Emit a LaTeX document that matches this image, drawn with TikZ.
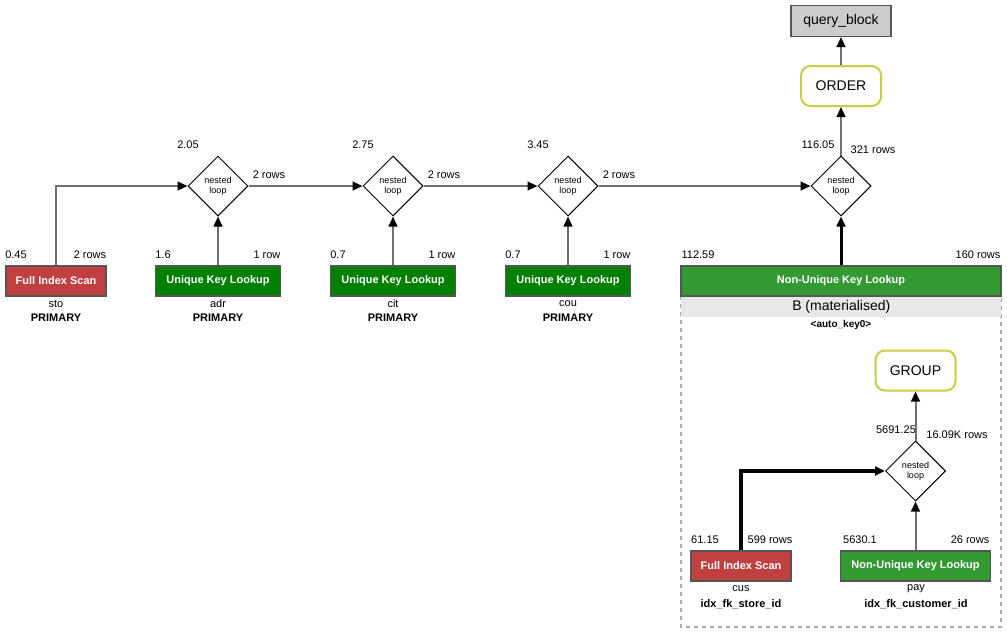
\documentclass[tikz,border=0pt]{standalone}
\usepackage{fontspec}
\setmainfont{Liberation Sans}
\usetikzlibrary{shapes.geometric,arrows.meta}
\definecolor{scanred}{HTML}{C04040}
\definecolor{ukgreen}{HTML}{008000}
\definecolor{nukgreen}{HTML}{339933}
\definecolor{edgegray}{HTML}{707070}
\definecolor{boxborder}{HTML}{555555}
\definecolor{opborder}{HTML}{CCCC44}
\definecolor{qbfill}{HTML}{CCCCCC}
\definecolor{bandfill}{HTML}{E8E8E8}
\definecolor{dashgray}{HTML}{AAAAAA}
\tikzset{
  accbox/.style={draw=boxborder, line width=1pt, minimum height=22.5pt, inner sep=0pt,
    text=white, font=\fontsize{8.25}{9}\selectfont\bfseries},
  redbox/.style={accbox, fill=scanred, minimum width=75pt},
  ukbox/.style={accbox, fill=ukgreen, minimum width=93.75pt},
  nukbox/.style={accbox, fill=nukgreen},
  nlbox/.style={diamond, draw, line width=0.75pt, fill=white, minimum width=45pt, minimum height=45pt,
    inner sep=0pt, align=center, font=\fontsize{6.75}{7.5}\selectfont},
  opbox/.style={draw=opborder, line width=1.5pt, rounded corners=7pt, fill=white,
    minimum width=60pt, minimum height=30pt, font=\fontsize{10.5}{12}\selectfont},
  lbl/.style={font=\fontsize{8.25}{9}\selectfont, inner sep=0pt},
  blbl/.style={font=\fontsize{8.25}{9}\selectfont\bfseries, inner sep=0pt},
  edge/.style={draw=edgegray, line width=1.5pt, -{Triangle[length=7.5pt,width=6.5pt,color=black]}},
  thickedge/.style={draw=black, line width=2.25pt, -{Triangle[length=7.5pt,width=6.5pt]}},
  heavyedge/.style={draw=black, line width=3.5pt, -{Triangle[length=7.5pt,width=6.5pt]}},
}
\begin{document}
\begin{tikzpicture}[x=0.75pt,y=-0.75pt]
\useasboundingbox (0,0) rectangle (1007,632);

% dashed materialised region
\draw[dashgray, dashed, line width=1pt] (681,296) rectangle (1001,627);
\node[fill=bandfill, minimum width=240pt, minimum height=15.75pt, inner sep=0pt, anchor=north west,
  font=\fontsize{10.5}{12}\selectfont] (band) at (681,296) {B (materialised)};
\node[blbl, font=\fontsize{7.5}{9}\selectfont\bfseries] (autokey) at (841,325) {<auto\_key0>};

% top chain
\node[draw=boxborder, line width=1pt, fill=qbfill, minimum width=75pt, minimum height=23pt,
  font=\fontsize{10.5}{12}\selectfont] (qb) at (841,21) {query\_block};
\node[opbox] (order) at (841,86) {ORDER};
\node[nlbox] (nl4) at (841,186) {nested\\loop};
\node[nukbox, minimum width=240pt] (nuk) at (841,281) {Non-Unique Key Lookup};

% first row
\node[redbox] (sto) at (56,281) {Full Index Scan};
\node[ukbox] (adr) at (218,281) {Unique Key Lookup};
\node[ukbox] (cit) at (393,281) {Unique Key Lookup};
\node[ukbox] (cou) at (568,281) {Unique Key Lookup};
\node[nlbox] (nl1) at (218,186) {nested\\loop};
\node[nlbox] (nl2) at (393,186) {nested\\loop};
\node[nlbox] (nl3) at (568,186) {nested\\loop};

% materialised subtree
\node[opbox] (group) at (915.5,370.5) {GROUP};
\node[nlbox] (nl5) at (915.5,471) {nested\\loop};
\node[redbox] (cus) at (741,566) {Full Index Scan};
\node[nukbox, minimum width=112.5pt] (pay) at (915.5,566) {Non-Unique Key Lookup};

% labels
\node[lbl] (l1) at (16,255) {0.45};
\node[lbl] (l2) at (90,255) {2 rows};
\node[lbl] (l3) at (56,304) {sto};
\node[blbl] (l4) at (56,318) {PRIMARY};
\node[lbl] (l5) at (163,255) {1.6};
\node[lbl] (l6) at (267,255) {1 row};
\node[lbl] (l7) at (218,304) {adr};
\node[blbl] (l8) at (218,318) {PRIMARY};
\node[lbl] (l9) at (338,255) {0.7};
\node[lbl] (l10) at (442,255) {1 row};
\node[lbl] (l11) at (393,304) {cit};
\node[blbl] (l12) at (393,318) {PRIMARY};
\node[lbl] (l13) at (513,255) {0.7};
\node[lbl] (l14) at (617,255) {1 row};
\node[lbl] (l15) at (568,304) {cou};
\node[blbl] (l16) at (568,318) {PRIMARY};
\node[lbl] (l17) at (188,145) {2.05};
\node[lbl] (l18) at (269,175) {2 rows};
\node[lbl] (l19) at (363,145) {2.75};
\node[lbl] (l20) at (444,175) {2 rows};
\node[lbl] (l21) at (538,145) {3.45};
\node[lbl] (l22) at (619,175) {2 rows};
\node[lbl] (l23) at (818,145) {116.05};
\node[lbl] (l24) at (873,150) {321 rows};
\node[lbl] (l25) at (698,255) {112.59};
\node[lbl] (l26) at (978,255) {160 rows};
\node[lbl] (l27) at (896,430) {5691.25};
\node[lbl] (l28) at (957,435) {16.09K rows};
\node[lbl] (l29) at (705,540) {61.15};
\node[lbl] (l30) at (770,540) {599 rows};
\node[lbl] (l31) at (741,589) {cus};
\node[blbl] (l32) at (741,604) {idx\_fk\_store\_id};
\node[lbl] (l33) at (860,540) {5630.1};
\node[lbl] (l34) at (970,540) {26 rows};
\node[lbl] (l35) at (916,589) {pay};
\node[blbl] (l36) at (916,604) {idx\_fk\_customer\_id};

% edges
\draw[edge] (sto.north) |- (nl1.west);
\draw[edge] (adr.north) -- (nl1.south);
\draw[edge] (nl1.east) -- (nl2.west);
\draw[edge] (cit.north) -- (nl2.south);
\draw[edge] (nl2.east) -- (nl3.west);
\draw[edge] (cou.north) -- (nl3.south);
\draw[edge] (nl3.east) -- (nl4.west);
\draw[thickedge] (nuk.north) -- (nl4.south);
\draw[edge] (nl4.north) -- (order.south);
\draw[edge] (order.north) -- (qb.south);
\draw[heavyedge] (cus.north) |- (nl5.west);
\draw[edge] (pay.north) -- (nl5.south);
\draw[edge] (nl5.north) -- (group.south);
\end{tikzpicture}
\end{document}
